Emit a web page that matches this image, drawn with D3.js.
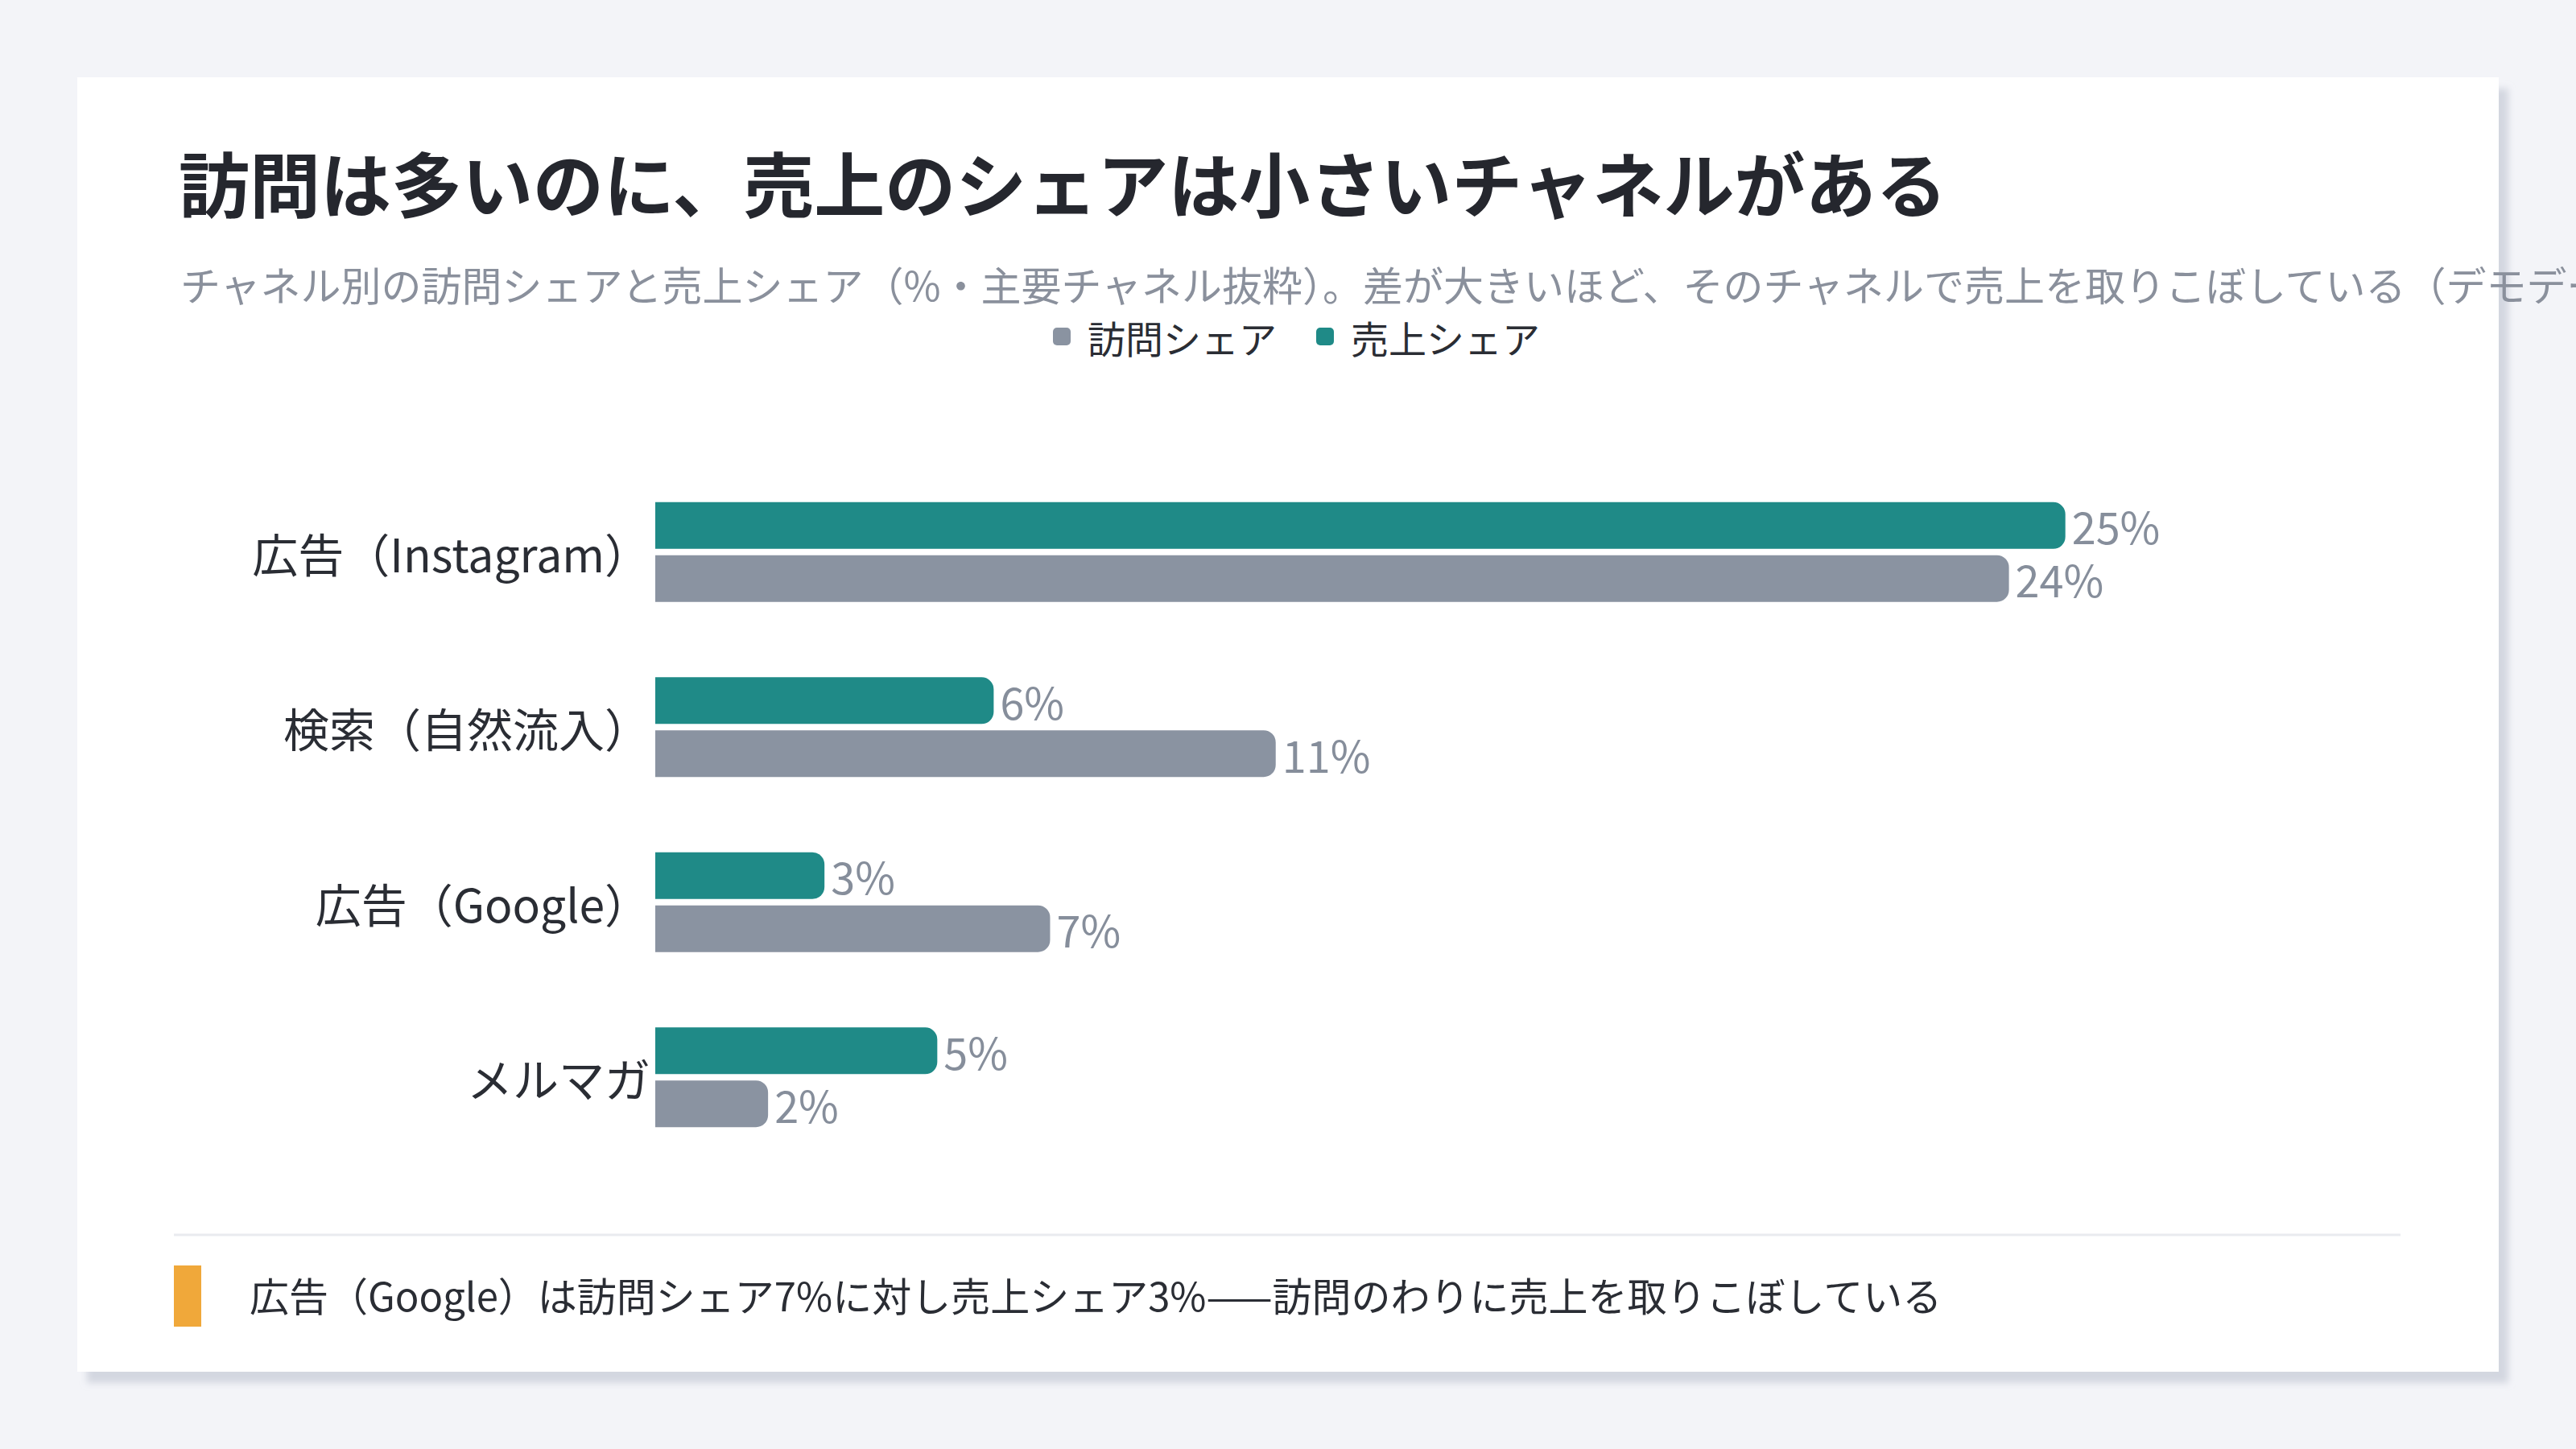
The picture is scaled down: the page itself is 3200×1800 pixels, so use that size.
<!DOCTYPE html>
<html>
<head>
<meta charset="utf-8">
<script src="https://cdn.jsdelivr.net/npm/d3@7"></script>
<style>
  html, body { margin: 0; padding: 0; background: #f3f4f8; }
  svg { display: block; font-family: "Noto Sans CJK JP", "Noto Sans", sans-serif; }
</style>
</head>
<body>
<svg id="canvas" width="3200" height="1800"></svg>
<script>
const categories = ["広告（Instagram）", "検索（自然流入）", "広告（Google）", "メルマガ"]
const salesShare = [25, 6, 3, 5]
const visitShare = [24, 11, 7, 2]
const seriesNames = ["売上シェア", "訪問シェア"]
const legendNames = ["訪問シェア", "売上シェア"]
const colors = {"売上シェア": "#1f8a87", "訪問シェア": "#8a93a1"}

const titleText = "訪問は多いのに、売上のシェアは小さいチャネルがある"
const subtitleText = "チャネル別の訪問シェアと売上シェア（%・主要チャネル抜粋）。差が大きいほど、そのチャネルで売上を取りこぼしている（デモデータ）"
const noteText = "広告（Google）は訪問シェア7%に対し売上シェア3%——訪問のわりに売上を取りこぼしている"

let canvas = d3.select("#canvas")

// background + card
canvas.append("rect").attr("width", 3200).attr("height", 1800).attr("fill", "#f3f4f8")

let defs = canvas.append("defs")
let shadow = defs.append("filter").attr("id", "shadow")
                 .attr("x", "-5%").attr("y", "-5%").attr("width", "110%").attr("height", "110%")
shadow.append("feDropShadow")
      .attr("dx", 12).attr("dy", 14).attr("stdDeviation", 4)
      .attr("flood-color", "#b9bfcc").attr("flood-opacity", 0.55)

canvas.append("rect")
      .attr("x", 96).attr("y", 96)
      .attr("width", 3008).attr("height", 1608)
      .attr("fill", "#ffffff")
      .attr("filter", "url(#shadow)")

// title / subtitle
canvas.append("text")
      .text(titleText)
      .attr("x", 222).attr("y", 224)
      .attr("dominant-baseline", "central")
      .style("font-size", "88px")
      .style("font-weight", "700")
      .attr("fill", "#25272e")

// subtitle runs past the card edge, as in the original
canvas.append("text")
      .text(subtitleText)
      .attr("x", 224).attr("y", 352)
      .attr("dominant-baseline", "central")
      .style("font-size", "50px")
      .attr("fill", "#8a909c")

// legend
let legend = canvas.append("g")
let lx = 1308
legendNames.forEach((name) => {
  legend.append("rect")
        .attr("x", lx).attr("y", 407)
        .attr("width", 22).attr("height", 22)
        .attr("rx", 5)
        .attr("fill", colors[name])
  let t = legend.append("text")
                .text(name)
                .attr("x", lx + 43).attr("y", 418)
                .attr("dominant-baseline", "central")
                .style("font-size", "47px")
                .attr("fill", "#2a2d34")
  lx = lx + 43 + t.node().getComputedTextLength() + 49
})

// scales
let x = d3.scaleLinear()
          .domain([0, 30])
          .range([814, 2916])

let y0 = d3.scaleBand()
           .domain(categories)
           .range([577, 1447])
           .paddingInner(0.43)
           .paddingOuter(0.215)

let y1 = d3.scaleBand()
           .domain(seriesNames)
           .range([0, y0.bandwidth()])
           .paddingInner(0.12)

const rows = categories.map((c, i) => {
  return {cat: c, values: [
    {series: "売上シェア", value: salesShare[i]},
    {series: "訪問シェア", value: visitShare[i]}
  ]}
})

// bar with rounded right end
const barPath = (x0, top, w, h, r) => {
  r = Math.min(r, w, h / 2)
  return "M" + x0 + "," + top +
         "H" + (x0 + w - r) +
         "A" + r + "," + r + " 0 0 1 " + (x0 + w) + "," + (top + r) +
         "V" + (top + h - r) +
         "A" + r + "," + r + " 0 0 1 " + (x0 + w - r) + "," + (top + h) +
         "H" + x0 + "Z"
}

let group = canvas.selectAll("g.row")
                  .data(rows)
                  .enter()
                  .append("g")
                  .attr("class", "row")
                  .attr("transform", (d) => "translate(0," + y0(d.cat) + ")")

group.append("text")
     .text((d) => d.cat)
     .attr("x", 808)
     .attr("y", y0.bandwidth() / 2)
     .attr("text-anchor", "end")
     .attr("dominant-baseline", "central")
     .style("font-size", "57px")
     .attr("fill", "#2a2d34")

let bars = group.selectAll("g.bar")
                .data((d) => d.values)
                .enter()
                .append("g")
                .attr("class", "bar")

bars.append("path")
    .attr("d", (d) => barPath(x(0), y1(d.series), x(d.value) - x(0), y1.bandwidth(), 15))
    .attr("fill", (d) => colors[d.series])

bars.append("text")
    .text((d) => d.value + "%")
    .attr("x", (d) => x(d.value) + 8)
    .attr("y", (d) => y1(d.series) + y1.bandwidth() / 2)
    .attr("dominant-baseline", "central")
    .style("font-size", "54px")
    .attr("fill", "#868e9b")

// footer
canvas.append("line")
      .attr("x1", 216).attr("x2", 2982)
      .attr("y1", 1534).attr("y2", 1534)
      .attr("stroke", "#e9ebef")
      .attr("stroke-width", 3)

canvas.append("rect")
      .attr("x", 216).attr("y", 1572)
      .attr("width", 34).attr("height", 76)
      .attr("fill", "#f0a83a")

canvas.append("text")
      .text(noteText)
      .attr("x", 310).attr("y", 1607)
      .attr("dominant-baseline", "central")
      .style("font-size", "49px")
      .attr("fill", "#2a2d34")
</script>
</body>
</html>
